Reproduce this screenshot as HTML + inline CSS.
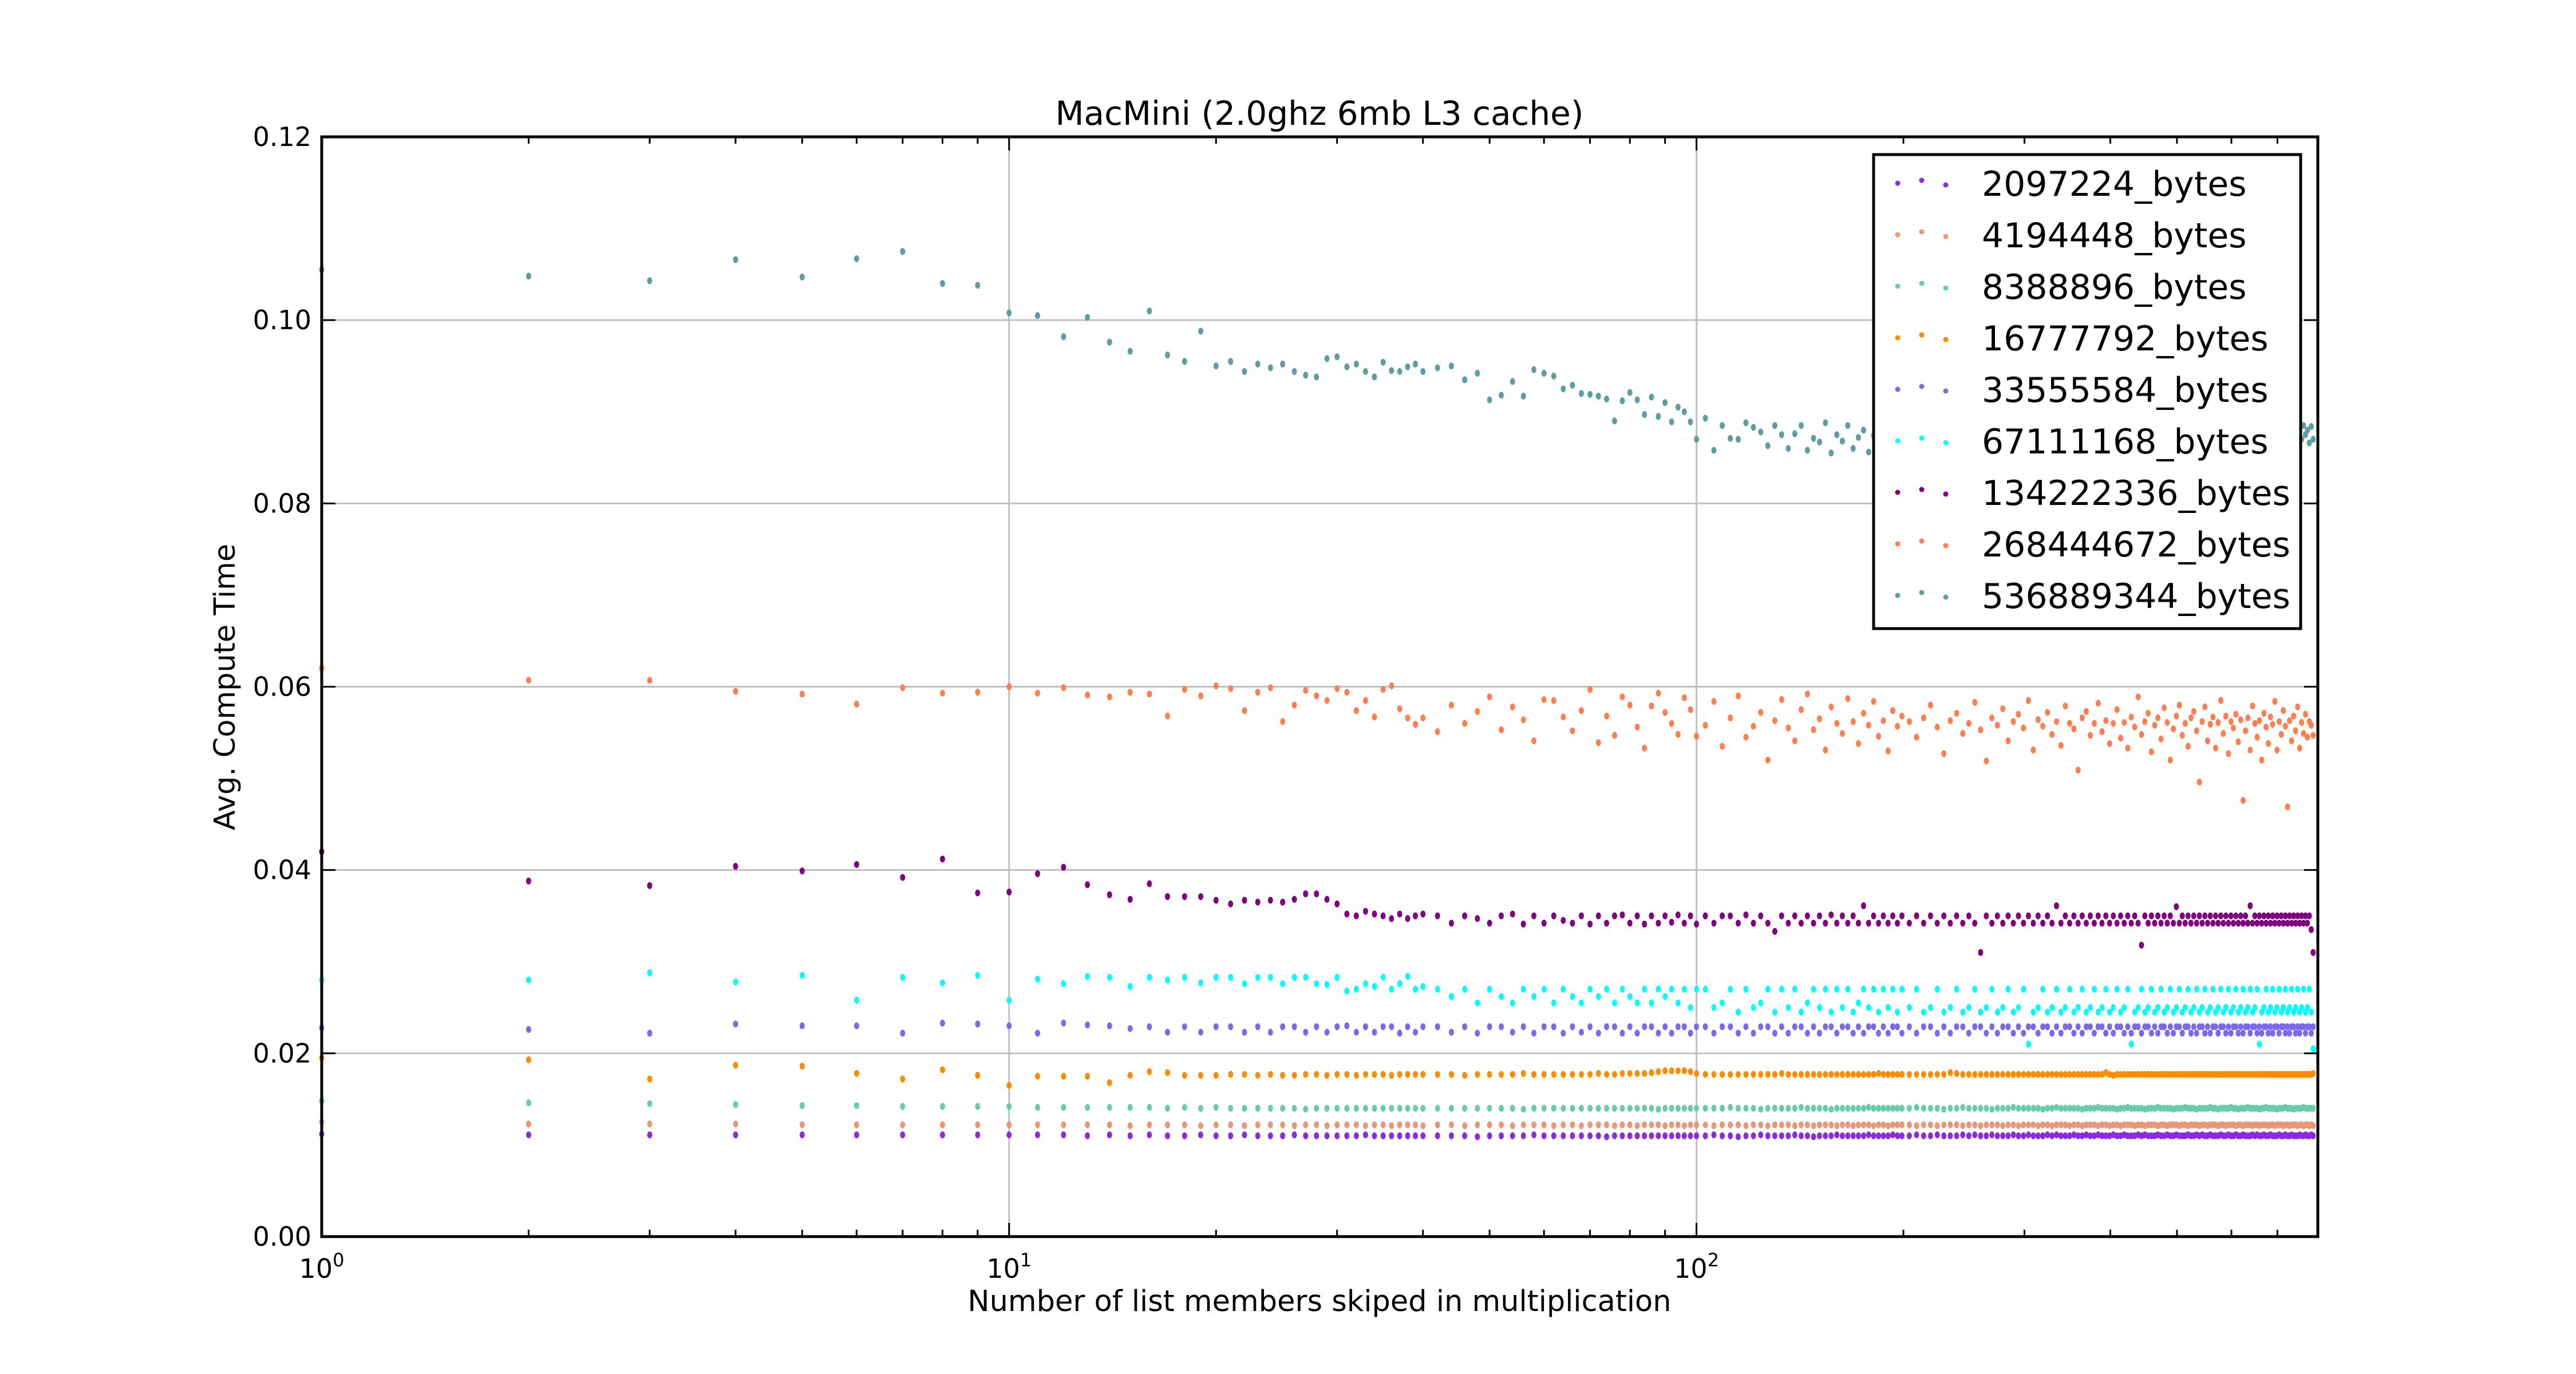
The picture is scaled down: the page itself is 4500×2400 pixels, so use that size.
<!DOCTYPE html>
<html><head><meta charset="utf-8"><style>
html,body{margin:0;padding:0;background:#fff}
svg{display:block}
text{font-family:"DejaVu Sans","Liberation Sans",sans-serif;fill:#000}
</style></head><body>
<svg id="chart" width="4500" height="2400" viewBox="0 0 4500 2400" xmlns="http://www.w3.org/2000/svg">
<rect width="4500" height="2400" fill="#fff"/>
<text x="2305" y="218" font-size="58" text-anchor="middle">MacMini (2.0ghz 6mb L3 cache)</text>
<g id="grid"></g>
<g id="points"></g>
<g id="axes"></g>
<text x="2305" y="2290" font-size="51" text-anchor="middle">Number of list members skiped in multiplication</text>
<text x="0" y="0" font-size="51" text-anchor="middle" transform="translate(410,1200) rotate(-90)">Avg. Compute Time</text>
<g id="legend"></g>
</svg>
<script>
// x domain segments [start, end, step] -> category x values
const xSegments = [[1,40,1],[42,100,2],[103,199,3],[204,789,5]];
const yTicks = [0, 0.02, 0.04, 0.06, 0.08, 0.10, 0.12];
const yTickLabels = ["0.00","0.02","0.04","0.06","0.08","0.10","0.12"];
const xDecades = [0, 1, 2];
const seriesNames = ["2097224_bytes","4194448_bytes","8388896_bytes","16777792_bytes","33555584_bytes","67111168_bytes","134222336_bytes","268444672_bytes","536889344_bytes"];
const seriesColors = ["#8a2be2","#e9967a","#66cdaa","#ff8c00","#7b68ee","#00ffff","#800080","#ff7f50","#5f9ea0"];
// values in units of 1e-4 seconds
const s2097224 = [
112,111,111,111,111,111,111,111,111,111,111,111,110,111,110,111,110,110,111,110,110,111,110,110,110,111,110,110,110,110,110,110,111,110,110,110,110,110,110,110,
110,110,110,109,110,110,110,110,111,110,110,110,110,110,110,110,109,110,110,110,110,110,110,110,110,110,110,110,110,110,
110,111,110,110,109,110,110,111,110,110,110,110,111,110,110,109,110,110,110,111,110,110,110,110,110,111,110,110,110,110,111,110,110,
110,111,110,110,111,110,110,110,111,110,111,110,110,111,110,110,110,111,110,110,111,110,110,110,111,110,111,110,110,110,111,110,110,111,110,110,111,110,110,110,
111,110,110,111,110,110,110,111,110,111,110,110,110,111,110,110,111,110,110,111,110,110,110,111,110,110,111,110,111,110,110,111,110,110,110,111,110,110,111,110,
110,111,110,110,111,110,110,110,111,110,111,110,110,111,110,110,111,110,110,110,111,110,110,111,110,110,111,110,110,110,111,110,110,111,110,110,111,110];
const s4194448 = [
125,123,123,123,122,122,122,122,122,122,122,122,122,122,121,122,122,122,121,122,122,121,122,122,122,121,122,122,121,122,122,122,121,122,122,121,122,122,122,121,
122,122,121,122,122,122,121,122,122,122,121,122,122,121,122,122,122,121,122,122,121,122,122,122,121,122,122,121,122,122,
122,121,122,122,122,121,122,122,121,122,122,122,121,122,122,121,122,122,122,121,122,122,121,122,122,122,121,122,122,121,122,122,122,
122,121,122,122,121,122,122,122,121,122,122,121,122,122,122,121,122,122,121,122,122,122,121,122,122,121,122,122,122,121,122,122,121,122,122,122,121,122,122,121,
122,122,121,122,122,122,121,122,122,121,122,122,122,121,122,122,121,122,122,122,121,122,122,121,122,122,122,121,122,122,121,122,122,122,121,122,122,121,122,122,
122,121,122,122,121,122,122,122,121,122,122,121,122,122,122,121,122,122,121,122,122,122,121,122,122,121,122,122,122,121,122,122,121,122,122,121,122,121];
const s8388896 = [
148,146,145,144,143,143,142,142,142,142,141,141,141,141,141,141,140,141,140,141,140,140,140,140,140,140,139,140,140,140,140,140,140,140,140,140,140,140,140,140,
140,140,140,140,140,140,140,139,140,140,140,140,140,140,140,140,140,140,140,140,140,140,140,139,140,140,140,140,140,140,
140,140,140,141,140,140,140,139,140,140,140,140,140,141,140,140,140,140,139,140,140,140,140,140,140,141,140,140,140,140,140,140,140,
140,141,140,140,140,139,140,140,141,140,140,140,140,139,140,140,140,141,140,140,140,140,140,139,140,140,141,140,140,140,140,140,139,140,140,140,141,140,140,140,
140,139,140,140,141,140,140,140,140,139,140,140,140,141,140,140,140,140,139,140,140,140,141,140,140,140,139,140,140,140,140,141,140,140,139,140,140,140,140,141,
140,140,139,140,140,140,141,140,140,140,140,139,140,140,141,140,140,140,140,139,140,140,140,141,140,140,140,139,140,140,140,140,141,140,140,140,140,140];
const s16777792 = [
195,193,172,187,186,178,172,182,176,165,175,175,175,168,176,180,179,176,176,176,177,177,176,177,176,176,177,177,176,177,177,176,177,177,177,176,177,177,177,177,
177,177,176,177,177,177,177,178,177,177,177,177,177,177,177,178,177,177,178,178,178,178,179,180,181,181,181,181,180,178,
177,177,177,177,177,177,177,177,177,177,178,177,177,177,177,177,177,177,177,177,177,177,177,177,177,177,177,178,177,177,177,177,177,
177,177,177,177,177,177,179,178,177,177,177,177,177,177,177,177,177,177,177,177,177,177,177,177,177,177,177,177,177,177,177,177,177,177,177,177,177,177,179,177,
176,177,177,177,177,177,177,177,177,177,177,177,177,177,177,177,177,177,177,177,177,177,177,177,177,177,177,177,177,177,177,177,177,177,177,177,177,177,177,177,
177,177,177,177,177,177,177,177,177,177,177,177,177,177,177,177,177,177,177,177,177,177,177,177,177,177,177,177,177,177,177,177,177,177,177,177,177,178];
const s33555584 = [
228,226,222,232,230,230,222,233,232,230,222,233,231,230,227,229,223,229,223,229,229,223,229,223,229,229,223,229,223,229,230,223,229,223,229,229,222,229,223,229,
229,223,229,222,229,229,223,229,222,229,229,222,229,223,229,222,229,229,222,229,222,229,229,222,229,222,229,229,222,229,
229,222,229,229,222,229,222,229,229,222,229,222,229,229,222,229,222,229,229,222,229,229,222,229,222,229,229,222,229,222,229,229,222,
229,222,229,229,222,229,222,229,229,222,229,229,222,229,222,229,229,222,229,222,229,229,222,229,229,222,229,222,229,229,222,229,222,229,229,222,229,229,222,229,
222,229,229,222,229,222,229,229,222,229,229,222,229,222,229,229,222,229,222,229,229,222,229,229,222,229,222,229,229,222,229,222,229,229,222,229,229,222,229,222,
229,229,222,229,222,229,229,222,229,229,222,229,222,229,229,222,229,222,229,229,222,229,229,222,229,222,229,229,222,229,222,229,229,222,229,229,222,229];
const s67111168 = [
280,280,288,278,285,258,283,277,285,258,281,276,284,283,273,283,280,283,277,283,283,276,283,283,276,283,283,276,275,283,268,270,276,273,283,270,276,284,270,273,
270,262,270,255,270,262,255,270,262,270,255,270,262,255,270,262,270,255,270,262,255,270,255,270,262,270,255,270,250,270,
270,250,255,270,245,270,250,255,270,245,270,250,270,245,255,270,250,270,245,270,250,270,245,255,270,250,270,245,270,250,270,245,270,
250,270,245,250,270,245,250,270,245,250,270,245,250,270,245,250,270,245,250,270,210,245,250,270,245,250,270,245,250,270,245,250,270,245,250,270,245,250,270,245,
250,270,245,250,270,210,245,250,270,245,250,270,245,250,270,245,250,270,245,250,270,245,250,270,245,250,270,245,250,270,245,250,270,245,250,270,245,250,270,245,
250,270,245,250,270,245,250,270,245,250,270,210,245,250,270,245,250,270,245,250,270,245,250,270,245,250,270,245,250,270,245,250,270,245,250,270,245,205];
const s134222336 = [
420,388,383,404,399,406,392,412,375,376,396,403,384,373,368,385,371,371,371,367,363,367,365,367,365,368,374,374,368,363,352,350,355,352,350,347,352,347,350,352,
350,342,350,347,342,350,352,341,350,342,350,345,342,350,341,350,342,350,351,342,350,341,350,342,350,343,351,342,350,341,
350,342,350,350,342,351,342,350,342,333,350,342,350,342,350,342,350,342,351,342,350,342,350,342,361,342,350,342,350,342,350,342,350,
342,350,342,350,342,350,342,350,342,350,342,310,350,342,350,342,350,342,350,342,350,342,350,342,350,342,361,342,350,342,350,342,350,342,350,342,350,342,350,342,
350,342,350,342,350,342,350,342,318,350,342,350,342,350,342,350,342,350,342,360,342,350,342,350,342,350,342,350,342,350,342,350,342,350,342,350,342,350,342,350,
342,350,342,350,342,350,342,361,342,350,342,350,342,350,342,350,342,350,342,350,342,350,342,350,342,350,342,350,342,350,342,350,342,350,342,350,335,310];
const s268444672 = [
620,607,607,595,592,581,599,593,594,600,593,599,591,589,594,592,568,597,590,601,598,574,594,599,562,580,596,590,585,598,594,574,585,567,597,601,576,566,559,566,
551,580,560,573,589,553,578,564,541,586,585,567,552,574,597,539,568,547,589,580,556,533,579,593,572,560,548,588,575,546,
558,584,535,566,590,545,557,572,520,563,586,555,541,575,592,553,565,531,578,560,549,587,562,538,571,558,584,546,563,530,574,557,568,
562,545,566,580,556,527,563,571,549,560,583,553,519,566,558,576,541,562,570,555,585,531,564,557,572,548,562,536,579,560,554,509,566,573,547,560,582,551,563,538,
560,575,544,561,533,567,556,589,548,562,571,529,558,566,543,577,561,520,554,568,580,547,560,535,566,573,552,496,562,578,541,559,567,533,561,585,549,568,527,562,
555,570,540,564,476,552,566,531,579,560,545,563,520,571,556,538,567,559,584,531,562,548,574,557,469,563,541,568,552,578,533,561,549,570,545,562,558,547];
const s536889344 = [
1055,1048,1043,1066,1047,1067,1075,1040,1038,1008,1005,982,1003,976,966,1010,962,955,988,950,955,944,952,948,952,944,940,938,958,960,949,952,944,938,954,945,944,949,952,944,
948,950,935,942,913,918,933,917,946,942,939,925,929,920,919,917,914,890,912,921,913,897,916,895,910,889,905,900,889,870,
893,858,885,871,870,888,883,878,863,885,875,860,876,885,858,871,867,888,855,875,868,885,860,872,880,856,874,885,860,880,871,884,868,
885,860,878,870,887,858,880,866,884,857,878,870,885,860,876,868,884,858,880,866,886,860,877,870,885,858,880,866,884,860,878,870,885,858,880,866,884,860,877,870,
885,858,880,866,884,860,878,870,885,858,880,866,884,860,877,870,885,858,880,866,884,860,878,870,885,858,880,866,884,860,877,870,885,858,880,866,884,860,878,870,
885,858,880,866,884,860,877,870,885,858,880,866,884,860,878,870,885,858,880,866,884,860,877,870,885,858,880,866,884,860,878,870,885,875,880,866,884,870];
const allSeries = [s2097224,s4194448,s8388896,s16777792,s33555584,s67111168,s134222336,s268444672,s536889344];

const NS = "http://www.w3.org/2000/svg";
const PL = 562, PR = 4049, PT = 239, PB = 2160;
const logMin = 0, logMax = Math.log10(801.5);
function xScale(v){ return PL + (Math.log10(v) - logMin) / (logMax - logMin) * (PR - PL); }
function yScale(v){ return PB - (v / 0.12) * (PB - PT); }
function mk(tag, attrs, parent){ const e = document.createElementNS(NS, tag); for (const k in attrs) e.setAttribute(k, attrs[k]); parent.appendChild(e); return e; }

const xs = [];
for (const seg of xSegments) { for (let v = seg[0]; v <= seg[1]; v += seg[2]) xs.push(v); }

const grid = document.getElementById('grid');
yTicks.forEach(function(t){
  if (t === 0 || t === 0.12) return;
  const l = mk('line', {x1:PL, x2:PR, y1:yScale(t), y2:yScale(t), stroke:'#c0c0c0', 'stroke-width':3}, grid);
  
  
});
xDecades.forEach(function(d){
  if (d === 0) return;
  const x = xScale(Math.pow(10, d));
  const l = mk('line', {x1:x, x2:x, y1:PT, y2:PB, stroke:'#c0c0c0', 'stroke-width':3}, grid);
  
  
});

const pts = document.getElementById('points');
allSeries.forEach(function(vals, si){
  const g = mk('g', {fill: seriesColors[si]}, pts);
  
  
  const n = Math.min(vals.length, xs.length);
  for (let i = 0; i < n; i++) {
    const c = mk('ellipse', {cx: xScale(xs[i]), cy: yScale(vals[i] / 10000), rx: 4.5, ry: 6}, g);
    
    
  }
});

const axes = document.getElementById('axes');
const frame = mk('rect', {x:PL, y:PT, width:PR-PL, height:PB-PT, fill:'none', stroke:'#000', 'stroke-width':5}, axes);


yTicks.forEach(function(t, i){
  const y = yScale(t);
  mk('line', {x1:PL, x2:PL+24, y1:y, y2:y, stroke:'#000', 'stroke-width':3}, axes);
  mk('line', {x1:PR, x2:PR-24, y1:y, y2:y, stroke:'#000', 'stroke-width':3}, axes);
  const tx = mk('text', {x:PL-18, y:y+16, 'font-size':46, 'text-anchor':'end'}, axes);
  tx.textContent = yTickLabels[i];
  
  
});
xDecades.forEach(function(d){
  for (let m = 1; m <= 9; m++) {
    const v = m * Math.pow(10, d);
    if (v > 801) break;
    const x = xScale(v);
    const len = m === 1 ? 24 : 12;
    mk('line', {x1:x, x2:x, y1:PB, y2:PB-len, stroke:'#000', 'stroke-width':3}, axes);
    mk('line', {x1:x, x2:x, y1:PT, y2:PT+len, stroke:'#000', 'stroke-width':3}, axes);
  }
  const x = xScale(Math.pow(10, d));
  const tx = mk('text', {x:x, y:2232, 'font-size':46, 'text-anchor':'middle'}, axes);
  
  
  const b = document.createElementNS(NS, 'tspan'); b.textContent = '10'; tx.appendChild(b);
  const s = document.createElementNS(NS, 'tspan'); s.setAttribute('dy', '-20'); s.setAttribute('font-size', '32'); s.textContent = String(d); tx.appendChild(s);
});

const lg = document.getElementById('legend');
const box = mk('rect', {x:3273, y:270, width:746, height:828, fill:'#fff', stroke:'#000', 'stroke-width':5}, lg);


seriesNames.forEach(function(name, i){
  const cy = 320 + i * 90;
  const g = mk('g', {}, lg);
  
  
  [[3315,0],[3357,-5],[3399,3]].forEach(function(p){
    mk('circle', {cx:p[0], cy:cy+p[1], r:4.5, fill:seriesColors[i]}, g);
  });
  const t = mk('text', {x:3462, y:cy+22, 'font-size':60}, g);
  t.textContent = name;
});
</script>
</body></html>
